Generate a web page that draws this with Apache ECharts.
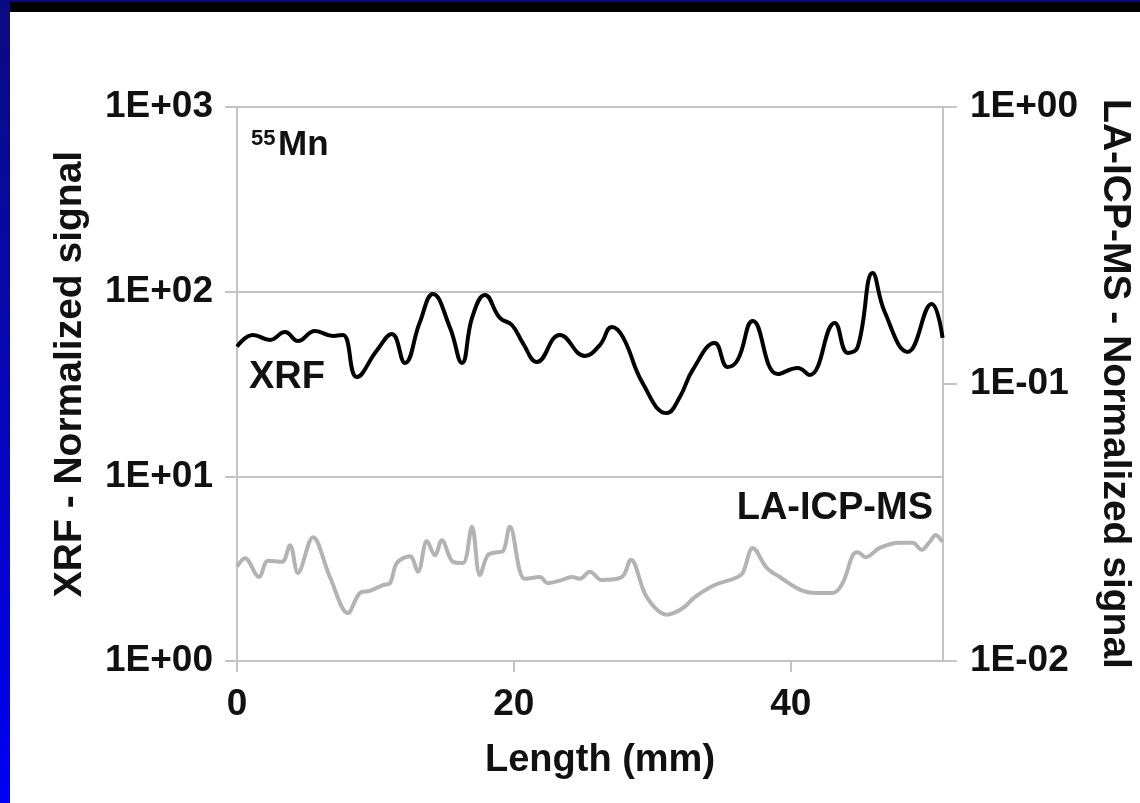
<!DOCTYPE html>
<html>
<head>
<meta charset="utf-8">
<script src="https://cdn.jsdelivr.net/npm/echarts@6/dist/echarts.min.js"></script>
<style>
html,body{margin:0;padding:0;background:#fff;}
#chart{width:1140px;height:803px;}
</style>
</head>
<body>
<div id="chart"></div>
<script>
// ---- data ----
const xTickValues = [0, 20, 40];
const xTickLabels = ['0', '20', '40'];
const leftTickLabels = ['1E+00', '1E+01', '1E+02', '1E+03'];   // 10^0 .. 10^3
const rightTickLabels = ['1E-02', '1E-01', '1E+00'];           // 10^-2 .. 10^0

const xrfLength = [0, 1.16, 2.38, 3.47, 4.40, 5.63, 6.93, 7.65, 8.66, 10.1, 11.19, 12.13, 13.2, 14.15, 15.38, 16.25, 17.0, 17.91, 18.99, 19.86, 20.65, 21.66, 23.32, 25.13, 26.21, 27.08, 27.87, 29.3, 31.05, 32.0, 32.92, 34.51, 35.45, 36.17, 37.26, 39.06, 40.51, 41.37, 43.18, 44.12, 44.84, 45.92, 46.79, 48.45, 50.18, 50.97];
const xrfSignal = [50.4, 58.3, 54.8, 60.5, 54.1, 61.3, 57.6, 58.3, 34.5, 48, 59.0, 41.1, 68, 97.2, 64, 41.1, 73, 96.0, 72.1, 66.0, 52.7, 41.6, 58.3, 44.9, 51.4, 64.4, 56.9, 32, 22.0, 27, 37.7, 52.7, 39.1, 42.7, 69.4, 35.8, 38.6, 35.4, 67.7, 46.6, 50.2, 126.2, 77.6, 47.2, 85.8, 56.2];

const icpLength = [0, 0.58, 1.59, 2.24, 3.25, 3.83, 4.40, 5.49, 6.71, 8.01, 8.88, 9.60, 10.54, 11.05, 11.55, 12.49, 13.07, 13.72, 14.30, 14.80, 15.60, 16.32, 16.97, 17.55, 18.12, 18.77, 19.21, 19.71, 20.79, 21.88, 22.45, 23.32, 24.19, 24.77, 25.49, 26.35, 27.80, 28.45, 29.60, 31.05, 32.20, 33.07, 34.51, 35.96, 36.53, 37.26, 38.27, 39.21, 40.65, 41.88, 43.03, 43.75, 44.48, 44.84, 45.42, 46.43, 47.87, 48.81, 49.46, 50.04, 50.47, 50.97];
const icpSignal = [0.0219, 0.0235, 0.0201, 0.0230, 0.0228, 0.0262, 0.0208, 0.0280, 0.0201, 0.0149, 0.0176, 0.0179, 0.0188, 0.0191, 0.0226, 0.0239, 0.0210, 0.0271, 0.0241, 0.0273, 0.0228, 0.0226, 0.0305, 0.0204, 0.0241, 0.0247, 0.0249, 0.0305, 0.0198, 0.0201, 0.0191, 0.0195, 0.0201, 0.0198, 0.0210, 0.0196, 0.0201, 0.0232, 0.0170, 0.0147, 0.0155, 0.0170, 0.0188, 0.0199, 0.0208, 0.0256, 0.0217, 0.0201, 0.0181, 0.0176, 0.0176, 0.0191, 0.0241, 0.0247, 0.0237, 0.0256, 0.0267, 0.0267, 0.0252, 0.0269, 0.0285, 0.0269];

const xrfData = xrfLength.map((x, i) => [x, xrfSignal[i]]);
const icpData = icpLength.map((x, i) => [x, icpSignal[i]]);

const FONT = "'Liberation Sans', Arial, sans-serif";
const axisLineColor = '#c4c4c4';

const chart = echarts.init(document.getElementById('chart'), null, {renderer: 'canvas'});
chart.setOption({
  animation: false,
  backgroundColor: '#ffffff',
  grid: {left: 237, right: 197, top: 107, bottom: 142, containLabel: false, outerBoundsMode: 'none'},
  xAxis: {
    type: 'value', min: 0, max: 51,
    axisLine: {show: true, lineStyle: {color: axisLineColor, width: 2}},
    axisTick: {show: true, inside: false, length: 11, customValues: xTickValues, lineStyle: {color: axisLineColor, width: 2}},
    axisLabel: {
      customValues: xTickValues, margin: 25,
      formatter: v => xTickLabels[xTickValues.indexOf(v)] ?? '',
      fontFamily: FONT, fontSize: 37, fontWeight: 'bold', color: '#111'
    },
    splitLine: {show: false},
    name: 'Length (mm)', nameLocation: 'middle', nameGap: 81,
    nameTextStyle: {fontFamily: FONT, fontSize: 38, fontWeight: 'bold', color: '#111', padding: [0, 0, 0, 20]}
  },
  yAxis: [{
    type: 'log', logBase: 10, min: 1, max: 1000,
    axisLine: {show: true, lineStyle: {color: axisLineColor, width: 2}},
    axisTick: {show: true, inside: false, length: 12, lineStyle: {color: axisLineColor, width: 2}},
    minorTick: {show: false},
    axisLabel: {
      margin: 24,
      formatter: v => leftTickLabels[Math.round(Math.log10(v))] ?? '',
      fontFamily: FONT, fontSize: 37, fontWeight: 'bold', color: '#111'
    },
    splitLine: {show: true, lineStyle: {color: axisLineColor, width: 2}},
    name: 'XRF - Normalized signal', nameLocation: 'middle', nameRotate: 90, nameGap: 147,
    nameTextStyle: {fontFamily: FONT, fontSize: 39, fontWeight: 'bold', color: '#111', padding: [0, 0, 0, 20]}
  }, {
    type: 'log', logBase: 10, min: 0.01, max: 1, position: 'right',
    axisLine: {show: true, lineStyle: {color: axisLineColor, width: 2}},
    axisTick: {show: true, inside: false, length: 14, lineStyle: {color: axisLineColor, width: 2}},
    minorTick: {show: false},
    axisLabel: {
      margin: 27,
      formatter: v => rightTickLabels[Math.round(Math.log10(v)) + 2] ?? '',
      fontFamily: FONT, fontSize: 37, fontWeight: 'bold', color: '#111'
    },
    splitLine: {show: false},
    name: 'LA-ICP-MS - Normalized signal', nameLocation: 'middle', nameRotate: -90, nameGap: 152,
    nameTextStyle: {fontFamily: FONT, fontSize: 39, fontWeight: 'bold', color: '#111'}
  }],
  series: [{
    name: 'XRF', type: 'line', yAxisIndex: 0, data: xrfData,
    showSymbol: false, smooth: 0.45,
    lineStyle: {color: '#000000', width: 4}, z: 3
  }, {
    name: 'LA-ICP-MS', type: 'line', yAxisIndex: 1, data: icpData,
    showSymbol: false, smooth: 0.35,
    lineStyle: {color: '#b3b3b3', width: 4}, z: 2
  }],
  graphic: [
    {type: 'rect', shape: {x: 0, y: 0, width: 1140, height: 12}, style: {fill: '#000000'}, z: 10},
    {type: 'rect', shape: {x: 0, y: 0, width: 1140, height: 2}, style: {fill: '#0a0a7e'}, z: 11},
    {type: 'rect', shape: {x: 0, y: 0, width: 10, height: 803},
      style: {fill: new echarts.graphic.LinearGradient(0, 0, 0, 1, [{offset: 0, color: '#0b0b80'}, {offset: 1, color: '#0000f4'}])}, z: 12},
    {type: 'text', x: 251, y: 139, style: {text: '55', fontFamily: FONT, fontSize: 22, fontWeight: 'bold', fill: '#111', align: 'left', verticalAlign: 'middle'}},
    {type: 'text', x: 278, y: 145, style: {text: 'Mn', fontFamily: FONT, fontSize: 35, fontWeight: 'bold', fill: '#111', align: 'left', verticalAlign: 'middle'}},
    {type: 'text', x: 249, y: 378, style: {text: 'XRF', fontFamily: FONT, fontSize: 38, fontWeight: 'bold', fill: '#111', align: 'left', verticalAlign: 'middle'}},
    {type: 'text', x: 933, y: 509, style: {text: 'LA-ICP-MS', fontFamily: FONT, fontSize: 38, fontWeight: 'bold', fill: '#111', align: 'right', verticalAlign: 'middle'}}
  ]
});
</script>
</body>
</html>
